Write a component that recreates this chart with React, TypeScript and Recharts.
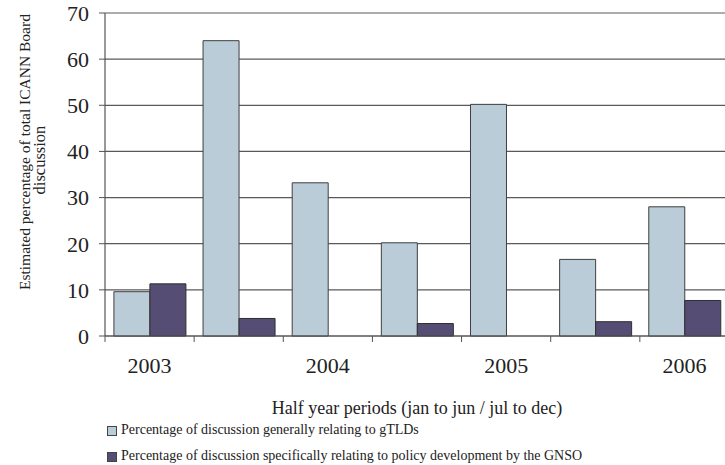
import React from "react";
import {
  BarChart,
  Bar,
  XAxis,
  YAxis,
  CartesianGrid,
  Legend,
} from "recharts";

// half year periods, jan-jun / jul-dec
const periods = ["2003 H1", "2003 H2", "2004 H1", "2004 H2", "2005 H1", "2005 H2", "2006 H1"];
const periodLabels = ["2003", "", "2004", "", "2005", "", "2006"];
const gtldShare = [9.6, 64, 33.2, 20.2, 50.2, 16.6, 28.0];
const gnsoShare = [11.3, 3.8, 0, 2.7, 0, 3.1, 7.7];
const yTicks = [0, 10, 20, 30, 40, 50, 60, 70];

const seriesNames = [
  "Percentage of discussion generally relating to gTLDs",
  "Percentage of discussion specifically relating to policy development by the GNSO",
];

const LIGHT = "#b9ccd8";
const DARK = "#554d74";
const FONT = "'Liberation Serif', 'Times New Roman', serif";

const data = periods.map((p, i) => ({
  period: p,
  gtld: gtldShare[i],
  gnso: gnsoShare[i],
}));

const XTick = (props: any) => {
  const { x, y, payload, index } = props;
  const half = payload?.offset ?? 44.6;
  return (
    <g>
      <line x1={x - half} x2={x - half} y1={y} y2={y + 6} stroke="#555" />
      {index === periods.length - 1 && (
        <line x1={x + half} x2={x + half} y1={y} y2={y + 6} stroke="#555" />
      )}
      <text
        x={x}
        y={y + 37}
        textAnchor="middle"
        fontFamily={FONT}
        fontSize={22}
        fill="#222"
      >
        {periodLabels[index]}
      </text>
    </g>
  );
};

const YLabel = () => (
  <g fontFamily={FONT} fill="#222">
    <text
      x={30}
      y={290}
      fontSize={15.5}
      transform="rotate(-90 30 290)"
      textAnchor="start"
    >
      Estimated percentage of total ICANN Board
    </text>
    <text
      x={45}
      y={160}
      fontSize={16.5}
      transform="rotate(-90 45 160)"
      textAnchor="middle"
    >
      discussion
    </text>
  </g>
);

const LegendContent = () => (
  <div
    style={{
      height: 47,
      fontFamily: FONT,
      fontSize: 14,
      color: "#222",
      position: "relative",
    }}
  >
    {seriesNames.map((name, i) => (
      <div
        key={name}
        style={{
          position: "absolute",
          left: 107,
          top: -1 + i * 26,
          height: 26,
          lineHeight: "26px",
          whiteSpace: "nowrap",
          display: "flex",
          alignItems: "center",
        }}
      >
        <span
          style={{
            display: "inline-block",
            width: 8,
            height: 8,
            background: i === 0 ? LIGHT : DARK,
            border: "1px solid #444",
            marginRight: 4,
            marginTop: 1,
          }}
        />
        <span>{name}</span>
      </div>
    ))}
  </div>
);

export default function App() {
  return (
    <div
      style={{
        position: "absolute",
        left: 0,
        top: 0,
        width: 725,
        height: 465,
        overflow: "hidden",
        background: "#fff",
      }}
    >
      <BarChart
        width={735}
        height={465}
        data={data}
        margin={{ top: 13, right: 6, left: 0, bottom: 0 }}
        barCategoryGap="10%"
        barGap={0}
      >
        <CartesianGrid vertical={false} stroke="#5a5a5a" strokeWidth={1.2} />
        <XAxis
          dataKey="period"
          interval={0}
          height={82}
          tick={<XTick />}
          tickLine={false}
          tickSize={0}
          tickMargin={0}
          axisLine={{ stroke: "#555", strokeWidth: 1.2 }}
          label={{
            value: "Half year periods (jan to jun / jul to dec)",
            position: "insideBottom",
            offset: 4,
            fontFamily: FONT,
            fontSize: 18,
            fill: "#222",
          }}
        />
        <YAxis
          width={105}
          domain={[0, 70]}
          ticks={yTicks}
          interval={0}
          tickSize={6}
          tickMargin={10}
          tick={{ fontFamily: FONT, fontSize: 22, fill: "#222" }}
          tickLine={{ stroke: "#555" }}
          axisLine={{ stroke: "#555", strokeWidth: 1.2 }}
          label={YLabel}
        />
        <Legend
          verticalAlign="bottom"
          height={47}
          content={LegendContent}
          wrapperStyle={{ left: 0, width: 735 }}
        />
        <Bar
          dataKey="gtld"
          name={seriesNames[0]}
          fill={LIGHT}
          stroke="#3f3f3f"
          strokeWidth={1}
          isAnimationActive={false}
        />
        <Bar
          dataKey="gnso"
          name={seriesNames[1]}
          fill={DARK}
          stroke="#2f2f2f"
          strokeWidth={1}
          isAnimationActive={false}
        />
      </BarChart>
    </div>
  );
}
